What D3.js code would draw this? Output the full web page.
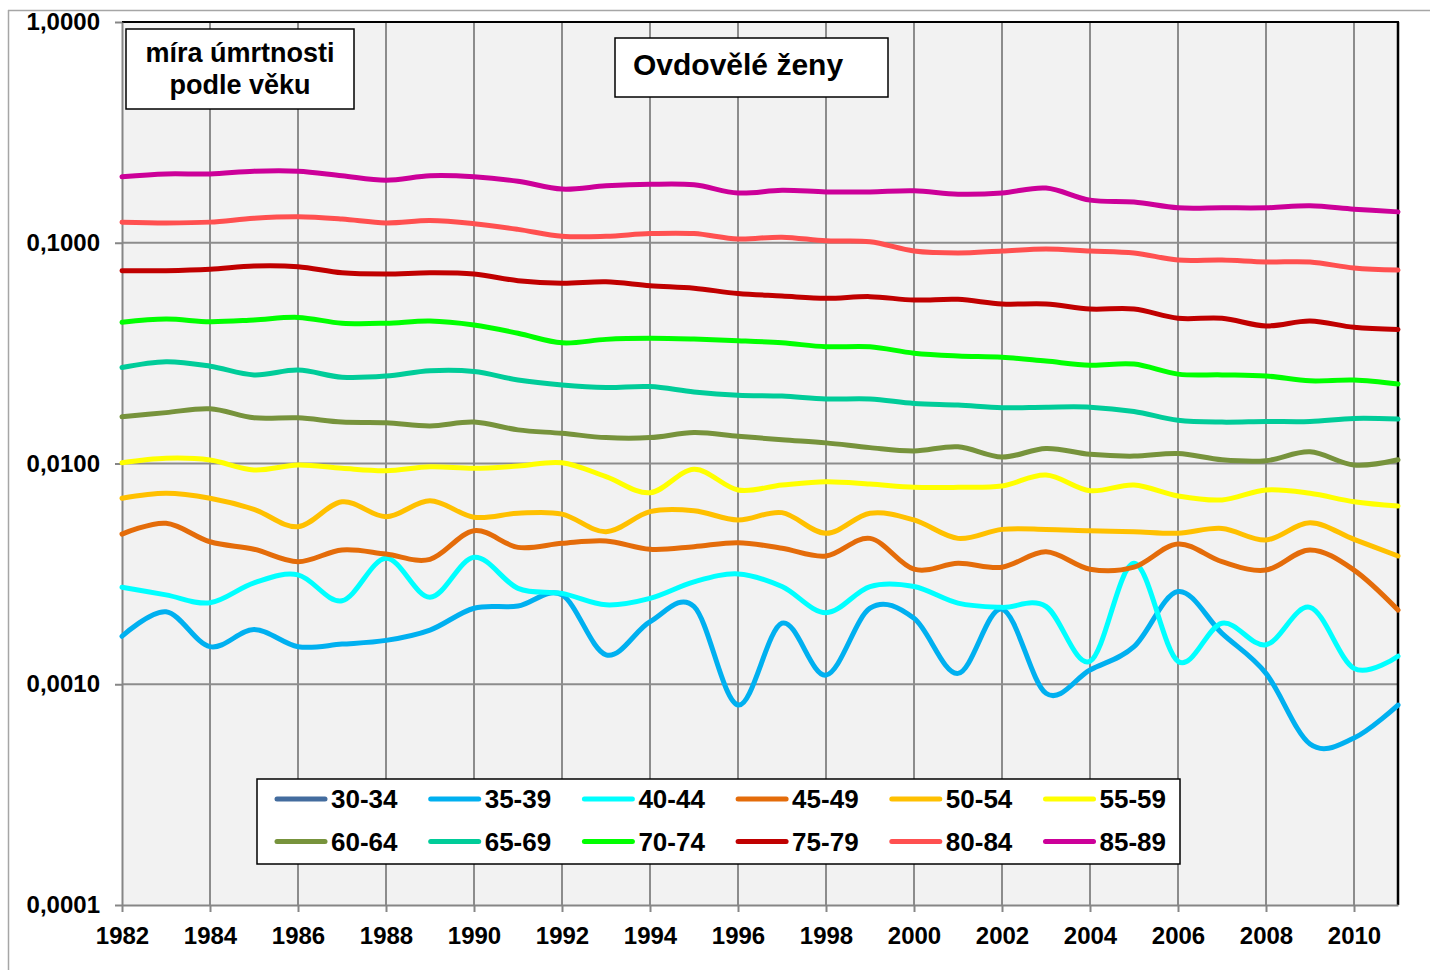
<!DOCTYPE html>
<html>
<head>
<meta charset="utf-8">
<script src="https://d3js.org/d3.v7.min.js"></script>
<title>Ovdovělé ženy</title>
<style>
html, body {
	margin: 0;
	padding: 0;
	background: #fff;
}
svg {
	display: block;
	font-family: 'Liberation Sans', Arial, sans-serif;
}
</style>
</head>
<body>
<svg width="1430" height="970"></svg>
<script>
// data (mortality rate by age group, widowed women)
var years = [1982, 1983, 1984, 1985, 1986, 1987, 1988, 1989, 1990, 1991,
	1992, 1993, 1994, 1995, 1996, 1997, 1998, 1999, 2000, 2001,
	2002, 2003, 2004, 2005, 2006, 2007, 2008, 2009, 2010, 2011];

var groups = ["30-34", "35-39", "40-44", "45-49", "50-54", "55-59",
	"60-64", "65-69", "70-74", "75-79", "80-84", "85-89"];

var colors = ["#436C9E", "#00B0F0", "#00FFFF", "#E46C0A", "#FFC000", "#FFFF00",
	"#77933C", "#00CC99", "#00FF00", "#C00000", "#FF5050", "#CC0099"];

// 30-34 has no visible values in the chart
var v3034 = [];
var v3539 = [0.00165, 0.00213, 0.00148, 0.00177, 0.00148, 0.00152, 0.00158, 0.00176, 0.00221, 0.00226,
	0.00254, 0.00136, 0.00192, 0.00225, 0.000805, 0.00189, 0.00110, 0.00221, 0.00199, 0.00112,
	0.00219, 0.00091, 0.00116, 0.00148, 0.00263, 0.00170, 0.00112, 0.000536, 0.000571, 0.000805];
var v4044 = [0.00275, 0.00254, 0.00234, 0.00288, 0.00313, 0.00239, 0.00372, 0.00248, 0.00376, 0.00272,
	0.00258, 0.00229, 0.00245, 0.00291, 0.00316, 0.00277, 0.00211, 0.00277, 0.00277, 0.00233,
	0.00223, 0.00225, 0.00127, 0.00353, 0.00127, 0.00189, 0.00151, 0.00223, 0.00118, 0.00134];
var v4549 = [0.00479, 0.00536, 0.00442, 0.00409, 0.00359, 0.00406, 0.00389, 0.00368, 0.00496, 0.00417,
	0.00435, 0.00446, 0.00409, 0.00420, 0.00438, 0.00413, 0.00381, 0.00458, 0.00332, 0.00353,
	0.00339, 0.00398, 0.00332, 0.00339, 0.00432, 0.00359, 0.00329, 0.00406, 0.00329, 0.00217];
var v5054 = [0.00696, 0.00733, 0.00696, 0.00620, 0.00517, 0.00671, 0.00574, 0.00678, 0.00571, 0.00595,
	0.00590, 0.00491, 0.00605, 0.00611, 0.00555, 0.00599, 0.00483, 0.00595, 0.00555, 0.00458,
	0.00503, 0.00503, 0.00496, 0.00491, 0.00483, 0.00508, 0.00450, 0.00539, 0.00453, 0.00381];
var v5559 = [0.01008, 0.01056, 0.01037, 0.00935, 0.00984, 0.00951, 0.00928, 0.00967, 0.00951, 0.00974,
	0.01008, 0.00872, 0.00737, 0.00941, 0.00759, 0.00799, 0.00827, 0.00807, 0.00780, 0.00780,
	0.00791, 0.00887, 0.00753, 0.00799, 0.00713, 0.00684, 0.00759, 0.00733, 0.00671, 0.00642];
var v6064 = [0.0163, 0.0170, 0.0177, 0.0161, 0.0161, 0.0154, 0.0153, 0.0148, 0.0154, 0.0142,
	0.0137, 0.0131, 0.0131, 0.0138, 0.0133, 0.0128, 0.0124, 0.0118, 0.0114, 0.0119,
	0.0107, 0.0117, 0.0110, 0.0108, 0.0111, 0.0104, 0.0103, 0.0113, 0.00984, 0.0104];
var v6569 = [0.0272, 0.0289, 0.0276, 0.0252, 0.0265, 0.0246, 0.0249, 0.0263, 0.0261, 0.0239,
	0.0227, 0.0221, 0.0223, 0.0211, 0.0204, 0.0202, 0.0196, 0.0196, 0.0187, 0.0184,
	0.0179, 0.0180, 0.0180, 0.0172, 0.0157, 0.0154, 0.0155, 0.0155, 0.0160, 0.0159];
var v7074 = [0.0436, 0.0451, 0.0439, 0.0447, 0.0459, 0.0432, 0.0432, 0.0442, 0.0424, 0.0389,
	0.0352, 0.0365, 0.0369, 0.0366, 0.0360, 0.0352, 0.0338, 0.0338, 0.0316, 0.0307,
	0.0303, 0.0291, 0.0279, 0.0282, 0.0254, 0.0252, 0.0249, 0.0237, 0.0239, 0.0229];
var v7579 = [0.0747, 0.0747, 0.0758, 0.0785, 0.0779, 0.0731, 0.0722, 0.0731, 0.0722, 0.0673,
	0.0655, 0.0666, 0.0639, 0.0622, 0.0589, 0.0574, 0.0560, 0.0570, 0.0550, 0.0554,
	0.0528, 0.0528, 0.0501, 0.0501, 0.0455, 0.0455, 0.0420, 0.0442, 0.0414, 0.0405];
var v8084 = [0.124, 0.123, 0.124, 0.129, 0.131, 0.128, 0.123, 0.126, 0.122, 0.115,
	0.107, 0.107, 0.110, 0.110, 0.104, 0.106, 0.102, 0.101, 0.0918, 0.0899,
	0.0918, 0.0937, 0.0918, 0.0899, 0.0835, 0.0835, 0.0818, 0.0818, 0.0769, 0.0752];
var v8589 = [0.199, 0.205, 0.205, 0.211, 0.211, 0.201, 0.192, 0.201, 0.199, 0.190,
	0.175, 0.181, 0.184, 0.183, 0.168, 0.173, 0.170, 0.170, 0.172, 0.166,
	0.168, 0.177, 0.156, 0.153, 0.144, 0.144, 0.144, 0.147, 0.142, 0.138];

var values = [v3034, v3539, v4044, v4549, v5054, v5559, v6064, v6569, v7074, v7579, v8084, v8589];

var xTicks = [1982, 1984, 1986, 1988, 1990, 1992, 1994, 1996, 1998, 2000, 2002, 2004, 2006, 2008, 2010];
var yTicks = [0.0001, 0.001, 0.01, 0.1, 1];

var titleLines = ["míra úmrtnosti", "podle věku"];
var title = "Ovdovělé ženy";

// plot area
var pLeft = 122, pRight = 1398, pTop = 22, pBottom = 905;

var svg = d3.select("svg");
var x = d3.scaleLinear().domain([1982, 2011]).range([pLeft, pRight]);
var y = d3.scaleLog().domain([0.0001, 1]).range([pBottom, pTop]);

var cz = d3.formatLocale({decimal: ",", thousands: " ", grouping: [3], currency: ["", " Kč"]});
var yfmt = cz.format(".4f");

// outer chart frame
svg.append("line").attr("x1", 8).attr("x2", 1430).attr("y1", 10.5).attr("y2", 10.5)
	.style("stroke", "#a6a6a6").style("stroke-width", 1.5);
svg.append("line").attr("x1", 8.5).attr("x2", 8.5).attr("y1", 10).attr("y2", 970)
	.style("stroke", "#a6a6a6").style("stroke-width", 1.5);

// plot background
svg.append("rect")
	.attr("x", pLeft).attr("y", pTop)
	.attr("width", pRight - pLeft).attr("height", pBottom - pTop)
	.style("fill", "#f2f2f2");

// grid
var grid = svg.append("g");
grid.selectAll("line.vx")
	.data(xTicks.filter(function(d) { return d > 1982; }))
	.enter().append("line")
	.attr("x1", function(d) { return x(d); })
	.attr("x2", function(d) { return x(d); })
	.attr("y1", pTop).attr("y2", pBottom)
	.style("stroke", "#8c8c8c").style("stroke-width", 2);
grid.selectAll("line.hy")
	.data(yTicks.filter(function(d) { return d > 0.0001 && d < 1; }))
	.enter().append("line")
	.attr("x1", pLeft).attr("x2", pRight)
	.attr("y1", function(d) { return y(d); })
	.attr("y2", function(d) { return y(d); })
	.style("stroke", "#8c8c8c").style("stroke-width", 2);

// plot border top / right
svg.append("line").attr("x1", pLeft).attr("x2", pRight + 1).attr("y1", pTop).attr("y2", pTop)
	.style("stroke", "#000").style("stroke-width", 2);
svg.append("line").attr("x1", pRight).attr("x2", pRight).attr("y1", pTop).attr("y2", pBottom)
	.style("stroke", "#000").style("stroke-width", 2.5);

// axes
var yAxis = svg.append("g")
	.attr("transform", "translate(" + pLeft + ",0)")
	.call(d3.axisLeft(y).tickValues(yTicks).tickFormat(yfmt).tickSize(7).tickSizeOuter(0).tickPadding(15));
var xAxis = svg.append("g")
	.attr("transform", "translate(0," + pBottom + ")")
	.call(d3.axisBottom(x).tickValues(xTicks).tickFormat(d3.format("d")).tickSize(7).tickSizeOuter(0).tickPadding(15));

[yAxis, xAxis].forEach(function(a) {
	a.select(".domain").style("stroke", "#868686").style("stroke-width", 2);
	a.selectAll(".tick line").style("stroke", "#868686").style("stroke-width", 2);
	a.selectAll(".tick text")
		.style("font-family", "'Liberation Sans', Arial, sans-serif")
		.style("font-size", "24px")
		.style("font-weight", "bold")
		.style("fill", "#000");
});

// series
var line = d3.line()
	.x(function(d) { return x(d.year); })
	.y(function(d) { return y(d.value); })
	.curve(d3.curveCardinal.tension(0));

var series = groups.map(function(g, i) {
	return {
		name: g,
		color: colors[i],
		points: values[i].map(function(v, j) { return {year: years[j], value: v}; })
	};
});

svg.append("g")
	.selectAll("path")
	.data(series.filter(function(s) { return s.points.length > 0; }))
	.enter().append("path")
	.attr("d", function(s) { return line(s.points); })
	.style("fill", "none")
	.style("stroke", function(s) { return s.color; })
	.style("stroke-width", 5)
	.style("stroke-linejoin", "round")
	.style("stroke-linecap", "round");

// label box top-left
var lb = svg.append("g");
lb.append("rect").attr("x", 126).attr("y", 29).attr("width", 228).attr("height", 80)
	.style("fill", "#fff").style("stroke", "#000").style("stroke-width", 1.5);
lb.selectAll("text")
	.data(titleLines)
	.enter().append("text")
	.attr("x", 240)
	.attr("y", function(d, i) { return 62 + i * 32; })
	.attr("text-anchor", "middle")
	.style("font-size", "27px")
	.style("font-weight", "bold")
	.text(function(d) { return d; });

// title box
var tb = svg.append("g");
tb.append("rect").attr("x", 615).attr("y", 38).attr("width", 273).attr("height", 59)
	.style("fill", "#fff").style("stroke", "#000").style("stroke-width", 1.5);
tb.append("text")
	.attr("x", 633).attr("y", 75)
	.style("font-size", "30px")
	.style("font-weight", "bold")
	.text(title);

// legend
var legend = svg.append("g");
legend.append("rect").attr("x", 257).attr("y", 779).attr("width", 923).attr("height", 85)
	.style("fill", "#fff").style("stroke", "#000").style("stroke-width", 1.5);
var item = legend.selectAll("g.item")
	.data(series)
	.enter().append("g")
	.attr("transform", function(d, i) {
		return "translate(" + (277 + (i % 6) * 153.7) + "," + (799 + Math.floor(i / 6) * 42.5) + ")";
	});
item.append("line")
	.attr("x1", 0).attr("x2", 48)
	.style("stroke", function(d) { return d.color; })
	.style("stroke-width", 5)
	.style("stroke-linecap", "round");
item.append("text")
	.attr("x", 54).attr("dy", "0.36em")
	.style("font-size", "26px")
	.style("font-weight", "bold")
	.text(function(d) { return d.name; });
</script>
</body>
</html>
